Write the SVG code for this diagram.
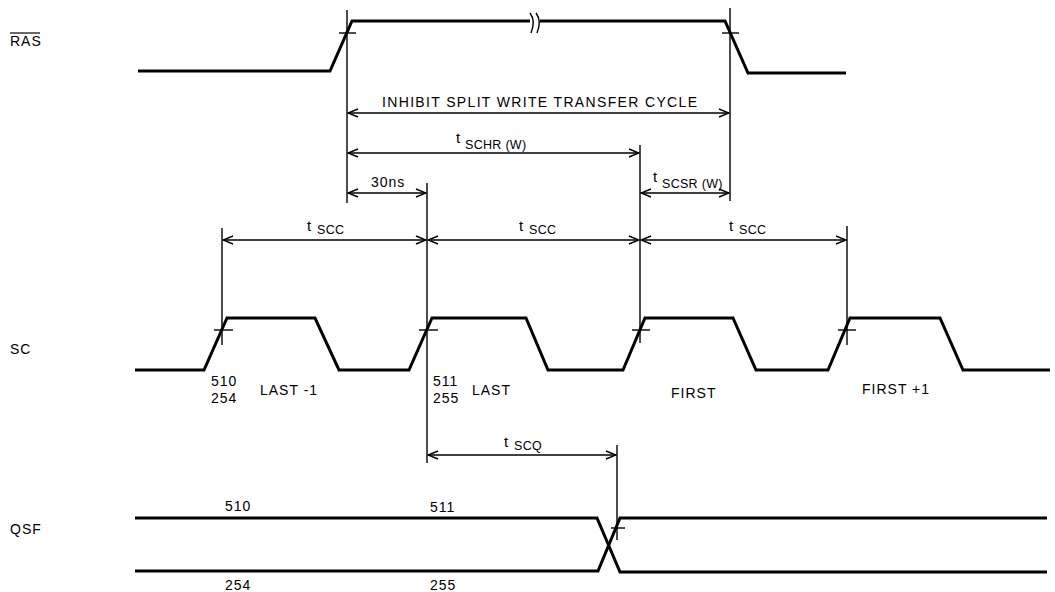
<svg xmlns="http://www.w3.org/2000/svg" width="1055" height="592" viewBox="0 0 1055 592">
<defs>
<marker id="ah" markerWidth="12" markerHeight="10" refX="11" refY="5" orient="auto-start-reverse" markerUnits="userSpaceOnUse">
<path d="M1,1 L11,5 L1,9" fill="none" stroke="#000" stroke-width="1.4"/>
</marker>
</defs>
<style>
.sig{fill:none;stroke:#000;stroke-width:3;stroke-linejoin:miter}
.ref{fill:none;stroke:#000;stroke-width:1.4}
.dim{fill:none;stroke:#000;stroke-width:1.4;marker-start:url(#ah);marker-end:url(#ah)}
.tk{fill:none;stroke:#000;stroke-width:1.4}
text{font-family:"Liberation Sans",Arial,sans-serif;fill:#000}
.lb{font-size:14px;letter-spacing:1px}
.t{font-size:15px}
.sub{font-size:12.5px;letter-spacing:0.3px}
</style>
<rect width="1055" height="592" fill="#fff"/>

<g id="labels">
<text class="lb" x="10" y="46">RAS</text>
<line x1="10" y1="33" x2="40" y2="33" stroke="#000" stroke-width="1.2"/>
<text class="lb" x="10" y="354">SC</text>
<text class="lb" x="10" y="534">QSF</text>
</g>

<g id="ras">
<path class="sig" d="M138,71 H330 L352,21 H530 M540,21 H725 L748,73 H846"/>
<path class="tk" d="M530,13 Q536,21 531,33 M536,13 Q542,21 537,33" stroke-width="1.2"/>
<line class="tk" x1="339" y1="33" x2="356" y2="33"/>
<line class="tk" x1="722" y1="33" x2="739" y2="33"/>
</g>

<g id="sc">
<path class="sig" d="M135,370 H204 L227,318 H315 L339,370 H409 L432,318 H526 L548,370 H623 L645,318 H733 L756,370 H828 L850,318 H940 L963,370 H1050"/>
<line class="tk" x1="214" y1="330" x2="233" y2="330"/>
<line class="tk" x1="419" y1="330" x2="438" y2="330"/>
<line class="tk" x1="632" y1="330" x2="650" y2="330"/>
<line class="tk" x1="838" y1="330" x2="856" y2="330"/>
<text class="lb" x="211" y="386">510</text>
<text class="lb" x="211" y="403">254</text>
<text class="lb" x="260" y="395">LAST -1</text>
<text class="lb" x="433" y="386">511</text>
<text class="lb" x="433" y="403">255</text>
<text class="lb" x="472" y="395">LAST</text>
<text class="lb" x="671" y="398">FIRST</text>
<text class="lb" x="862" y="394">FIRST +1</text>
</g>

<g id="qsf">
<path class="sig" d="M135,518 H597 L620,572 H1047"/>
<path class="sig" d="M135,571 H598 L620,518 H1047"/>
<line class="tk" x1="611" y1="528" x2="625" y2="528"/>
<text class="lb" x="225" y="511">510</text>
<text class="lb" x="430" y="512">511</text>
<text class="lb" x="225" y="590">254</text>
<text class="lb" x="430" y="590">255</text>
</g>

<g id="connectors">
<line class="ref" x1="347" y1="10" x2="347" y2="203"/>
<line class="ref" x1="730" y1="8" x2="730" y2="201"/>
<line class="ref" x1="640" y1="145" x2="640" y2="343"/>
<line class="ref" x1="427" y1="183" x2="427" y2="463"/>
<line class="ref" x1="222" y1="228" x2="222" y2="345"/>
<line class="ref" x1="847" y1="226" x2="847" y2="345"/>
<line class="ref" x1="617" y1="445" x2="617" y2="540"/>

<line class="dim" x1="348" y1="113" x2="729" y2="113"/>
<line class="dim" x1="348" y1="153" x2="639" y2="153"/>
<line class="dim" x1="348" y1="193" x2="426" y2="193"/>
<line class="dim" x1="641" y1="193" x2="729" y2="193"/>
<line class="dim" x1="223" y1="240" x2="426" y2="240"/>
<line class="dim" x1="428" y1="240" x2="639" y2="240"/>
<line class="dim" x1="641" y1="240" x2="846" y2="240"/>
<line class="dim" x1="428" y1="455" x2="616" y2="455"/>
</g>

<g id="dim-labels">
<text class="lb" x="382" y="107" textLength="316" lengthAdjust="spacing">INHIBIT SPLIT WRITE TRANSFER CYCLE</text>
<text class="t" x="456" y="143">t</text><text class="sub" x="465" y="149">SCHR (W)</text>
<text class="lb" x="371" y="187">30ns</text>
<text class="t" x="653" y="182">t</text><text class="sub" x="662" y="188">SCSR (W)</text>
<text class="t" x="307" y="231">t</text><text class="sub" x="317" y="234">SCC</text>
<text class="t" x="519" y="231">t</text><text class="sub" x="529" y="234">SCC</text>
<text class="t" x="729" y="231">t</text><text class="sub" x="739" y="234">SCC</text>
<text class="t" x="504" y="447">t</text><text class="sub" x="514" y="450">SCQ</text>
</g>
</svg>
